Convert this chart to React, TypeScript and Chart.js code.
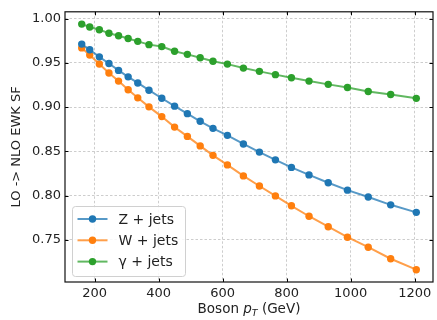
import { useEffect, useRef } from "react";
import { Chart, registerables } from "chart.js";

Chart.register(...registerables);

const ptBins = [160, 185, 215, 245, 275, 305, 335, 370, 410, 450, 490, 530, 570, 615, 665, 715, 765, 815, 870, 930, 990, 1055, 1125, 1205];
const zJets = [0.9712, 0.9648, 0.9568, 0.9493, 0.9415, 0.9342, 0.9273, 0.9191, 0.91, 0.9011, 0.8926, 0.884, 0.876, 0.8681, 0.8584, 0.8492, 0.8404, 0.8319, 0.8234, 0.8146, 0.8062, 0.7985, 0.7896, 0.7811];
const wJets = [0.9669, 0.9588, 0.9487, 0.9386, 0.9294, 0.9196, 0.9105, 0.9003, 0.8893, 0.8774, 0.8669, 0.8562, 0.8455, 0.8347, 0.8223, 0.8109, 0.7997, 0.7885, 0.7767, 0.7649, 0.753, 0.7417, 0.7287, 0.7163];
const gammaJets = [0.9938, 0.9905, 0.9875, 0.9834, 0.9806, 0.9776, 0.9743, 0.9706, 0.9684, 0.9632, 0.9596, 0.9558, 0.9519, 0.9486, 0.9441, 0.9404, 0.9367, 0.9331, 0.9294, 0.9257, 0.9221, 0.9177, 0.9143, 0.9099];

const seriesLabels = ["Z + jets", "W + jets", "γ + jets"];
const seriesColors = ["#1f77b4", "#ff7f0e", "#2ca02c"];
const seriesLineColors = ["rgba(31,119,180,0.75)", "rgba(255,127,14,0.75)", "rgba(44,160,44,0.75)"];

const xTicks = [200, 400, 600, 800, 1000, 1200];
const yTicks = [0.75, 0.8, 0.85, 0.9, 0.95, 1.0];
const xRange = [107.75, 1257.25];
const yRange = [0.7024, 1.0077];

const yTitle = "LO -> NLO EWK SF";
const xTitleParts = ["Boson ", "p", "T", " (GeV)"];

const FONT = "'DejaVu Sans', sans-serif";

const decorPlugin = {
  id: "decor",
  afterDraw(chart: any) {
    const ctx = chart.ctx as CanvasRenderingContext2D;
    const a = chart.chartArea;
    const xs = chart.scales.x;
    const ys = chart.scales.y;
    ctx.save();
    // inward ticks
    ctx.strokeStyle = "#000";
    ctx.lineWidth = 1;
    const tl = 3.5;
    ctx.beginPath();
    for (const v of xTicks) {
      const px = Math.round(xs.getPixelForValue(v)) + 0.5;
      ctx.moveTo(px, a.bottom);
      ctx.lineTo(px, a.bottom - tl);
      ctx.moveTo(px, a.top);
      ctx.lineTo(px, a.top + tl);
    }
    for (const v of yTicks) {
      const py = Math.round(ys.getPixelForValue(v)) + 0.5;
      ctx.moveTo(a.left, py);
      ctx.lineTo(a.left + tl, py);
      ctx.moveTo(a.right, py);
      ctx.lineTo(a.right - tl, py);
    }
    ctx.stroke();
    // frame
    ctx.lineWidth = 1.2;
    ctx.strokeStyle = "#111";
    ctx.strokeRect(a.left, a.top, a.right - a.left, a.bottom - a.top);

    // legend
    const bx = a.left + 7.5;
    const by = a.bottom - 75.5;
    const bw = 113;
    const bh = 70;
    ctx.beginPath();
    (ctx as any).roundRect(bx, by, bw, bh, 3);
    ctx.fillStyle = "rgba(255,255,255,0.85)";
    ctx.fill();
    ctx.strokeStyle = "#d0d0d0";
    ctx.lineWidth = 1;
    ctx.stroke();
    ctx.font = `14px ${FONT}`;
    ctx.textBaseline = "middle";
    ctx.textAlign = "left";
    seriesLabels.forEach((lab, i) => {
      const ry = by + 12.5 + i * 21.3;
      ctx.strokeStyle = seriesLineColors[i];
      ctx.lineWidth = 2;
      ctx.beginPath();
      ctx.moveTo(bx + 5, ry);
      ctx.lineTo(bx + 35, ry);
      ctx.stroke();
      ctx.fillStyle = seriesColors[i];
      ctx.beginPath();
      ctx.arc(bx + 20, ry, 3.7, 0, Math.PI * 2);
      ctx.fill();
      ctx.fillStyle = "#222";
      ctx.fillText(lab, bx + 46, ry + 1);
    });

    // y title
    ctx.save();
    ctx.translate(17, (a.top + a.bottom) / 2);
    ctx.rotate(-Math.PI / 2);
    ctx.font = `13px ${FONT}`;
    ctx.textAlign = "center";
    ctx.textBaseline = "middle";
    ctx.fillStyle = "#222";
    ctx.fillText(yTitle, 0, 0);
    ctx.restore();

    // x title with italic p and subscript T
    const fs = 13.5;
    const fNorm = `${fs}px ${FONT}`;
    const fIt = `italic ${fs}px ${FONT}`;
    const fSub = `italic ${fs * 0.7}px ${FONT}`;
    const fonts = [fNorm, fIt, fSub, fNorm];
    const widths = xTitleParts.map((t, i) => {
      ctx.font = fonts[i];
      return ctx.measureText(t).width;
    });
    const total = widths.reduce((s, w) => s + w, 0);
    let x = (a.left + a.right) / 2 - total / 2;
    const base = 313;
    ctx.textAlign = "left";
    ctx.textBaseline = "alphabetic";
    ctx.fillStyle = "#222";
    xTitleParts.forEach((t, i) => {
      ctx.font = fonts[i];
      ctx.fillText(t, x, i === 2 ? base + 3 : base);
      x += widths[i];
    });
    ctx.restore();
  },
};

export default function App() {
  const ref = useRef<HTMLCanvasElement | null>(null);
  useEffect(() => {
    document.body.style.margin = "0";
    const canvas = ref.current;
    if (!canvas) return;
    const mk = (vals: number[]) => ptBins.map((x, i) => ({ x, y: vals[i] }));
    const seriesValues = [zJets, wJets, gammaJets];
    const chart = new Chart(canvas, {
      type: "line",
      data: {
        datasets: seriesValues.map((vals, i) => ({
          label: seriesLabels[i],
          data: mk(vals),
          borderColor: seriesLineColors[i],
          backgroundColor: seriesColors[i],
          pointBackgroundColor: seriesColors[i],
          pointBorderColor: seriesColors[i],
          pointRadius: 3.7,
          pointBorderWidth: 0,
          borderWidth: 2,
          tension: 0,
          fill: false,
        })),
      },
      options: {
        animation: false,
        responsive: false,
        maintainAspectRatio: false,
        layout: { padding: { top: 5, right: 3, left: 0, bottom: 0 } },
        plugins: { legend: { display: false }, tooltip: { enabled: false } },
        scales: {
          x: {
            type: "linear",
            min: xRange[0],
            max: xRange[1],
            afterBuildTicks: (s: any) => {
              s.ticks = xTicks.map((v) => ({ value: v }));
            },
            afterFit: (s: any) => {
              s.height = 38;
            },
            ticks: {
              font: { family: FONT, size: 13 },
              color: "#222",
              padding: 4,
              maxRotation: 0,
              autoSkip: false,
              callback: (v: any) => String(v),
            },
            grid: { color: "#c0c0c0", lineWidth: 0.8, drawTicks: false, tickLength: 0 },
            border: { display: false, dash: [2.5, 2] },
          },
          y: {
            type: "linear",
            min: yRange[0],
            max: yRange[1],
            afterBuildTicks: (s: any) => {
              s.ticks = yTicks.map((v) => ({ value: v }));
            },
            afterFit: (s: any) => {
              s.width = 65;
            },
            ticks: {
              font: { family: FONT, size: 13 },
              color: "#222",
              padding: 4,
              autoSkip: false,
              callback: (v: any) => Number(v).toFixed(2),
            },
            grid: { color: "#c0c0c0", lineWidth: 0.8, drawTicks: false, tickLength: 0 },
            border: { display: false, dash: [2.5, 2] },
          },
        },
      },
      plugins: [decorPlugin],
    });
    return () => chart.destroy();
  }, []);
  return (
    <div style={{ width: 437, height: 320, background: "#fff" }}>
      <canvas ref={ref} width={437} height={320} style={{ display: "block" }} />
    </div>
  );
}
